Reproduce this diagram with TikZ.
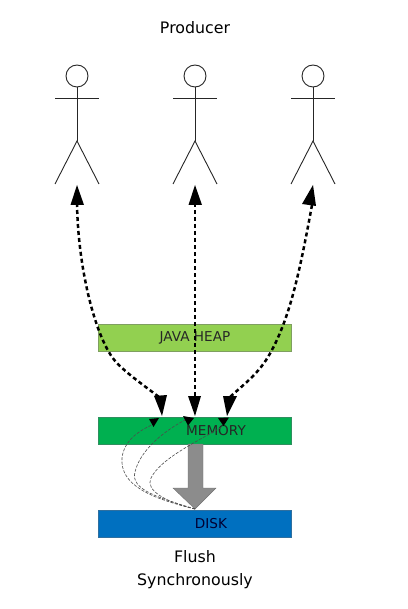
\documentclass[tikz,border=0pt]{standalone}
\usepackage{fontspec}
\setmainfont{DejaVu Sans}
\usetikzlibrary{arrows.meta,calc}
\definecolor{heapfill}{HTML}{92D050}
\definecolor{heapline}{HTML}{7F9F60}
\definecolor{memfill}{HTML}{00B050}
\definecolor{memline}{HTML}{2F8F5F}
\definecolor{diskfill}{HTML}{0070C0}
\definecolor{diskline}{HTML}{2F6F9F}
\definecolor{flushfill}{HTML}{8C8C8C}
\tikzset{
  x=1pt,y=-1pt,
  layerbox/.style={draw=#1,line width=0.8pt,minimum width=193pt,minimum height=27pt,inner sep=0pt,anchor=north west},
  layertext/.style={font=\fontsize{13.6}{16}\selectfont,text=black!85,inner sep=0pt},
  title/.style={font=\fontsize{15.8}{23}\selectfont,align=center,inner sep=0pt},
  stick/.style={draw=black!85,line width=0.9pt},
  requestflow/.style={draw=black,line width=2.5pt,dash pattern=on 4pt off 3pt},
  headfill/.style={fill=black,draw=none},
  flushflow/.style={draw=black!70,line width=0.6pt,dash pattern=on 3pt off 1.5pt},
}
\newcommand{\stickman}[2]{%
  \node[circle,stick,minimum size=22pt,inner sep=0pt] (head#2) at (#1,76) {};
  \coordinate (neck#2) at (#1,87);
  \coordinate (hip#2) at (#1,141);
  \coordinate (foot#2) at (#1,185);
  \draw[stick] (neck#2) -- (hip#2);
  \draw[stick] ($(neck#2)+(-22,11)$) -- ($(neck#2)+(22,11)$);
  \draw[stick] ($(hip#2)+(-22,43)$) -- (hip#2) -- ($(hip#2)+(22,43)$);
}
\begin{document}
\begin{tikzpicture}
\useasboundingbox (0,0) rectangle (407,609);
\node[title] (producer) at (195,28) {Producer};
\stickman{77}{A}
\stickman{195}{B}
\stickman{313}{C}
\node[layerbox=heapline,fill=heapfill] (heap) at (98,324) {};
\node[layertext] (heaplabel) at (195,338) {JAVA HEAP};
\node[layerbox=memline,fill=memfill] (mem) at (98,417) {};
\node[layerbox=diskline,fill=diskfill] (disk) at (98,510) {};
\coordinate (tipA) at (162,416);
\coordinate (tipB) at (195,416);
\coordinate (tipC) at (227,416);
% big flush arrow
\fill[flushfill,draw=black!55,line width=0.4pt] (188,444) -- (203,444) -- (203,488) -- (216,488) -- (195,509) -- (173,488) -- (188,488) -- cycle;
\node[layertext] (memlabel) at (216,431) {MEMORY};
\node[layertext,text=black!80!blue] (disklabel) at (211,524) {DISK};
% thick dashed curves
\draw[requestflow] (footA)++(0,18) .. controls (78,270) and (96,340) .. (116,362) .. controls (126,373) and (146,387) .. (159,397);
\draw[requestflow] (footB)++(0,18) -- (195,397);
\draw[requestflow] (footC)++(-1,20) .. controls (300,270) and (290,320) .. (268,357) .. controls (257,375) and (243,385) .. (230,397);
% thin dashed curves
\draw[flushflow] (195,509) .. controls (150,498) and (120,485) .. (122,458) .. controls (124,440) and (140,430) .. (154,424);
\draw[flushflow] (195,509) .. controls (160,498) and (130,490) .. (135,472) .. controls (140,450) and (165,430) .. (187,419);
\draw[flushflow] (195,509) .. controls (165,502) and (145,490) .. (151,478) .. controls (160,460) and (190,445) .. (222,427);
% small heads
\fill[headfill] (149,419) -- (159,418) -- (153.5,427) -- cycle;
\fill[headfill] (183,416) -- (194,418) -- (188,425.5) -- cycle;
\fill[headfill] (218,418) -- (229,417.5) -- (223.5,426) -- cycle;
% large heads
\fill[headfill] (tipA) -- (154,396) -- (167,395) -- cycle;
\fill[headfill] (tipB) -- (188,396) -- (201,396) -- cycle;
\fill[headfill] (tipC) -- (223,396) -- (237,396) -- cycle;
\fill[headfill] (footA) -- (70.5,205) -- (84,205) -- cycle;
\fill[headfill] (footB) -- (188.5,205) -- (202,205) -- cycle;
\fill[headfill] (footC) -- (302,204) -- (316,206) -- cycle;
\node[title] (flush) at (195,570) {Flush\\Synchronously};
\end{tikzpicture}
\end{document}
